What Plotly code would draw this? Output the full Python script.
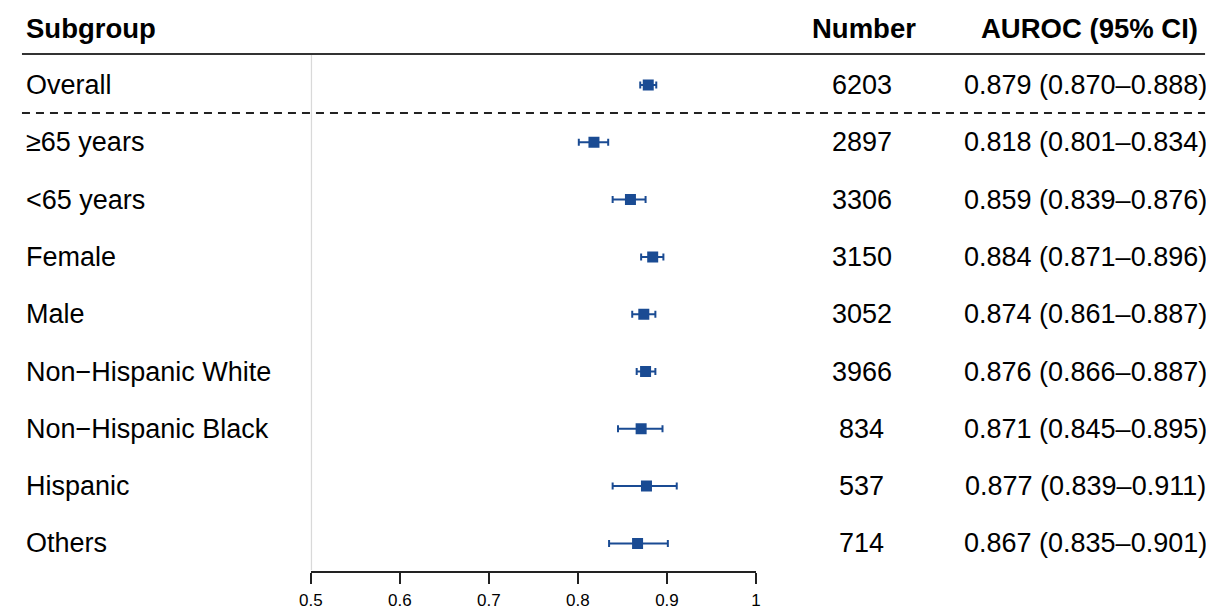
import plotly.graph_objects as go

subgroups = ["Overall", "≥65 years", "<65 years", "Female", "Male",
             "Non−Hispanic White", "Non−Hispanic Black", "Hispanic", "Others"]
numbers = [6203, 2897, 3306, 3150, 3052, 3966, 834, 537, 714]
auroc = [0.879, 0.818, 0.859, 0.884, 0.874, 0.876, 0.871, 0.877, 0.867]
lower = [0.870, 0.801, 0.839, 0.871, 0.861, 0.866, 0.845, 0.839, 0.835]
upper = [0.888, 0.834, 0.876, 0.896, 0.887, 0.887, 0.895, 0.911, 0.901]
tick_vals = [0.5, 0.6, 0.7, 0.8, 0.9, 1.0]
tick_text = ["0.5", "0.6", "0.7", "0.8", "0.9", "1"]

OFF = 8  # page body margin
W, H = 1214 - OFF, 613 - OFF
BLUE = "#1a4b93"
FONT = "Liberation Sans, Arial, Helvetica, sans-serif"

rows = list(range(len(subgroups)))

ROW0, STEP = 85 - OFF, 57.3
def yrow(p):
    return (p - OFF - ROW0) / STEP
y_top = (0 - ROW0) / STEP
y_bot = (H - ROW0) / STEP

def px(x):
    return (x - OFF) / W

fig = go.Figure()
fig.add_trace(go.Scatter(
    x=auroc, y=rows, mode="markers",
    marker=dict(symbol="square", size=11, color=BLUE),
    error_x=dict(type="data", symmetric=False,
                 array=[u - a for u, a in zip(upper, auroc)],
                 arrayminus=[a - l for a, l in zip(auroc, lower)],
                 color=BLUE, thickness=2, width=3.5),
    showlegend=False, hoverinfo="skip",
))

annotations = []
HB = dict(family=FONT, size=27.5, color="black")
HR = dict(family=FONT, size=27, color="black")
hy = yrow(28)
annotations.append(dict(x=px(12), y=hy, xref="paper", yref="y", text="<b>Subgroup</b>",
                        xanchor="left", yanchor="middle", showarrow=False, font=HB))
annotations.append(dict(x=px(864), y=hy, xref="paper", yref="y", text="<b>Number</b>",
                        xanchor="center", yanchor="middle", showarrow=False, font=HB))
annotations.append(dict(x=px(1093), y=hy, xref="paper", yref="y", text="<b>AUROC (95% CI)</b>",
                        xanchor="center", yanchor="middle", showarrow=False, font=HB))

for i, (s, n, a, l, u) in enumerate(zip(subgroups, numbers, auroc, lower, upper)):
    annotations.append(dict(x=px(12), y=i, xref="paper", yref="y", text=s,
                            xanchor="left", yanchor="middle", showarrow=False, font=HR))
    annotations.append(dict(x=px(862), y=i, xref="paper", yref="y", text=str(n),
                            xanchor="center", yanchor="middle", showarrow=False, font=HR))
    annotations.append(dict(x=px(1089), y=i, xref="paper", yref="y",
                            text=f"{a:.3f} ({l:.3f}–{u:.3f})",
                            xanchor="center", yanchor="middle", showarrow=False, font=HR))

shapes = [
    dict(type="line", xref="paper", yref="y", x0=px(10), x1=px(1210),
         y0=yrow(54), y1=yrow(54), line=dict(color="#333333", width=2)),
    dict(type="line", xref="paper", yref="y", x0=px(10), x1=px(1210),
         y0=yrow(113), y1=yrow(113), line=dict(color="#222222", width=2, dash="8px,6px")),
    dict(type="line", xref="x", yref="y", x0=0.5, x1=0.5, y0=yrow(55), y1=yrow(570),
         line=dict(color="#d9d9d9", width=2.5), layer="below"),
]

fig.update_layout(
    width=W, height=H,
    margin=dict(l=0, r=0, t=0, b=0),
    paper_bgcolor="white", plot_bgcolor="rgba(0,0,0,0)",
    annotations=annotations, shapes=shapes,
    xaxis=dict(domain=[px(303), px(754.5)], range=[0.5, 1.0],
               anchor="free", position=1 - (572 - OFF) / H,
               showline=True, linecolor="#222222", linewidth=2,
               ticks="outside", ticklen=11, tickwidth=2, tickcolor="#222222",
               tickvals=tick_vals, ticktext=tick_text, ticklabelstandoff=2,
               tickfont=dict(family=FONT, size=17, color="black"),
               showgrid=False, zeroline=False, fixedrange=True),
    yaxis=dict(domain=[0, 1], range=[y_bot, y_top], visible=False,
               showgrid=False, zeroline=False, fixedrange=True),
)

fig.write_html("out.html")
